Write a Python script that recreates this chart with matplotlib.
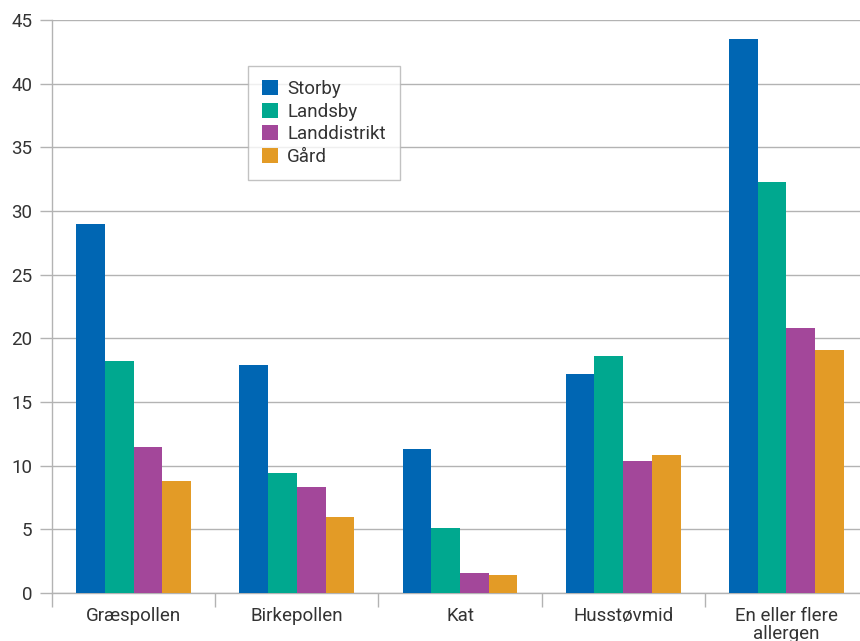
import numpy as np
import matplotlib.pyplot as plt

categories = ["Græspollen", "Birkepollen", "Kat", "Husstøvmid", "En eller flere\nallergen"]
series_names = ["Storby", "Landsby", "Landdistrikt", "Gård"]
storby = [29.0, 17.9, 11.3, 17.2, 43.5]
landsby = [18.2, 9.4, 5.1, 18.6, 32.3]
landdistrikt = [11.5, 8.3, 1.6, 10.4, 20.8]
gaard = [8.8, 6.0, 1.4, 10.8, 19.1]
yticks = [0, 5, 10, 15, 20, 25, 30, 35, 40, 45]

colors = ["#0066b3", "#00a88f", "#a3479a", "#e39b26"]
grid_col = "#b3b3b3"
text_col = "#333333"

plt.rcParams['font.family'] = ['Roboto', 'DejaVu Sans']

fig = plt.figure(figsize=(8.6, 6.41), dpi=100)
# axes runs a little past the right edge, like the original
ax = fig.add_axes([52/860, 1 - 593/641, 816/860, 573/641])

x = np.arange(len(categories))
w = 0.176
for i, (name, vals) in enumerate(zip(series_names, [storby, landsby, landdistrikt, gaard])):
    ax.bar(x + (i - 1.5) * w, vals, width=w, color=colors[i], label=name, zorder=3)

ax.set_xlim(-0.5, len(categories) - 0.5)
ax.set_ylim(0, 45)
ax.set_yticks(yticks)
ax.yaxis.grid(True, color=grid_col, linewidth=1, zorder=0)

# category boundary ticks on x
ax.set_xticks(np.arange(len(categories) + 1) - 0.5)
ax.set_xticklabels([])
ax.set_xticks(x, minor=True)
ax.set_xticklabels(categories, minor=True, fontsize=13.5, color=text_col, linespacing=1.0)
ax.tick_params(axis='x', which='minor', length=0, pad=10)
ax.tick_params(axis='x', which='major', length=10, color=grid_col, width=1)
ax.tick_params(axis='y', length=9, color=grid_col, width=1, labelsize=13.5,
               labelcolor=text_col, pad=5)

for s in ['top', 'right']:
    ax.spines[s].set_visible(False)
for s in ['left', 'bottom']:
    ax.spines[s].set_color(grid_col)
    ax.spines[s].set_linewidth(1)

leg = ax.legend(loc='upper left', bbox_to_anchor=(196/816, 1 - 46/573), frameon=True,
                fancybox=False, fontsize=13.5, handlelength=0.85, handleheight=0.85,
                handletextpad=0.5, labelspacing=0.25, borderpad=0.75, borderaxespad=0,
                labelcolor=text_col)
leg.get_frame().set_edgecolor(grid_col)
leg.get_frame().set_linewidth(1)

fig.savefig("out.png", dpi=100)
